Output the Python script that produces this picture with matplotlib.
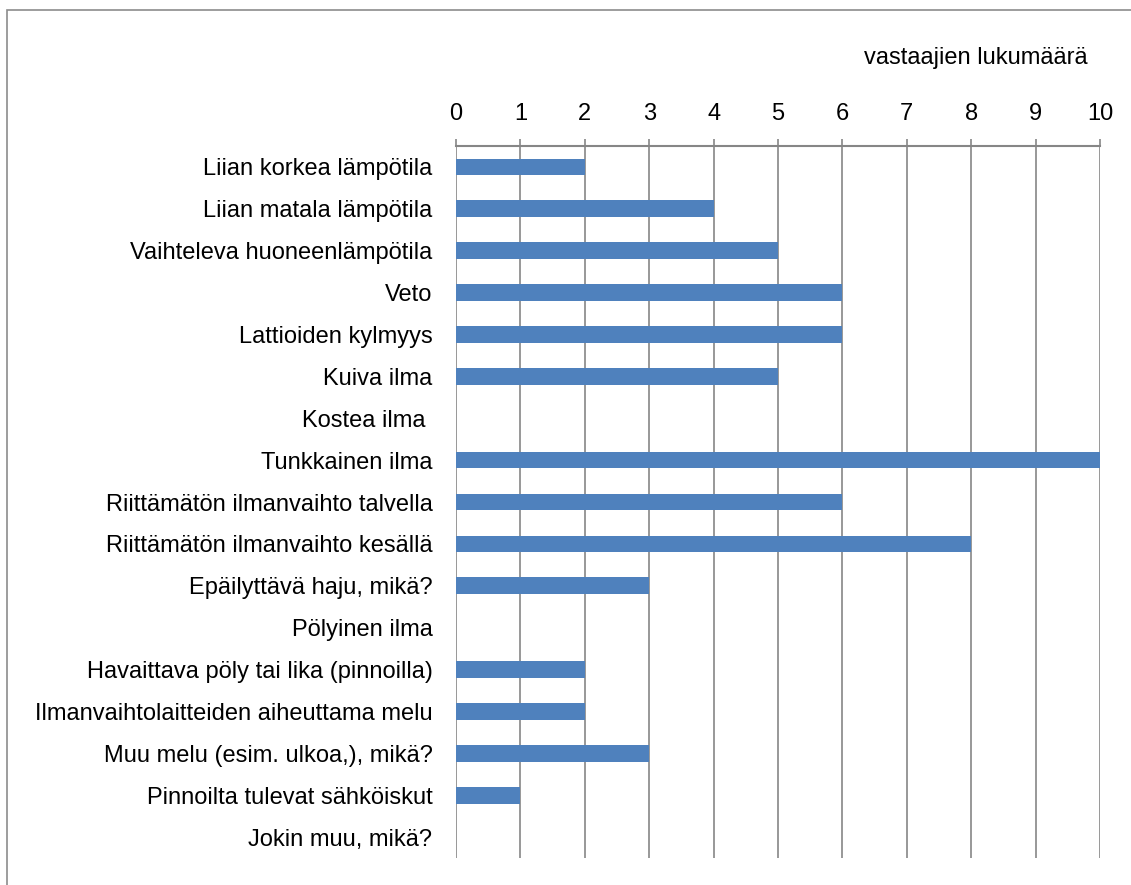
import matplotlib
matplotlib.use('Agg')
import matplotlib.pyplot as plt
from matplotlib.patches import Rectangle

categories = [
    'Liian korkea lämpötila',
    'Liian matala lämpötila',
    'Vaihteleva huoneenlämpötila',
    'Veto',
    'Lattioiden kylmyys',
    'Kuiva ilma',
    'Kostea ilma ',
    'Tunkkainen ilma',
    'Riittämätön ilmanvaihto talvella',
    'Riittämätön ilmanvaihto kesällä',
    'Epäilyttävä haju, mikä?',
    'Pölyinen ilma',
    'Havaittava pöly tai lika (pinnoilla)',
    'Ilmanvaihtolaitteiden aiheuttama melu',
    'Muu melu (esim. ulkoa,), mikä?',
    'Pinnoilta tulevat sähköiskut',
    'Jokin muu, mikä?',
]
counts = [2, 4, 5, 6, 6, 5, 0, 10, 6, 8, 3, 0, 2, 2, 3, 1, 0]
x_ticks = list(range(0, 11))
x_label = 'vastaajien lukumäärä'

BAR = '#4F81BD'
GRID = '#868686'
FS = 17

plt.rcParams['font.family'] = ['Liberation Sans', 'DejaVu Sans']

fig = plt.figure(figsize=(11.31, 8.85), dpi=100)
ax = fig.add_axes([456 / 1131, 1 - 858 / 885, (1100 - 456) / 1131, (858 - 146) / 885])

y = list(range(len(categories)))
ax.barh(y, counts, height=0.4, color=BAR, zorder=3)

ax.set_xlim(0, 10)
ax.set_ylim(len(categories) - 0.5, -0.5)
ax.set_xticks(x_ticks)
ax.set_yticks(y)
ax.set_yticklabels(categories, fontsize=FS)
ax.xaxis.tick_top()
ax.tick_params(axis='x', length=5, width=1.2, color=GRID, pad=10, labelsize=FS)
ax.tick_params(axis='y', length=0, pad=17)
ax.grid(True, axis='x', color=GRID, lw=1.2, zorder=0)

for s in ('left', 'right', 'bottom'):
    ax.spines[s].set_visible(False)
ax.spines['top'].set_color(GRID)
ax.spines['top'].set_linewidth(1.5)

fig.text(976 / 1131, 1 - 64 / 885, x_label, ha='center', va='baseline', fontsize=FS)

# chart frame, cut off at right and bottom
fig.patches.append(Rectangle((7 / 1131, -0.1), 1.2, 1 - 10 / 885 + 0.1,
                             transform=fig.transFigure, fill=False,
                             edgecolor='#8C8C8C', lw=1.2))

fig.savefig('out.png', dpi=100)
